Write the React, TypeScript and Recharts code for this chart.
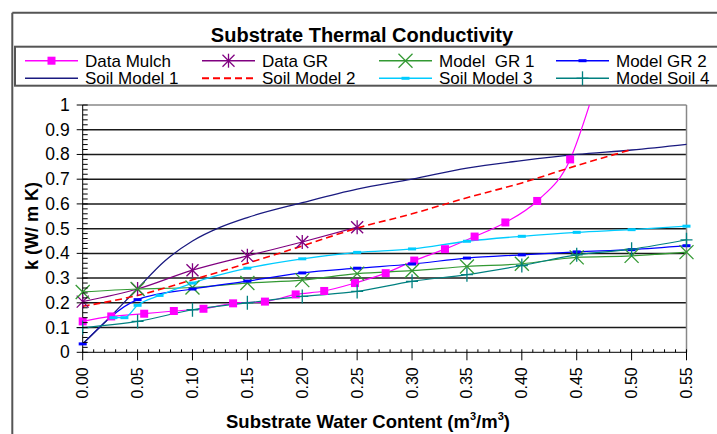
import { LineChart, Line, XAxis, YAxis, ReferenceLine } from "recharts"

// tick values
const xMajor = [0, 0.05, 0.1, 0.15, 0.2, 0.25, 0.3, 0.35, 0.4, 0.45, 0.5, 0.55]
const xLabels = ["0.00", "0.05", "0.10", "0.15", "0.20", "0.25", "0.30", "0.35", "0.40", "0.45", "0.50", "0.55"]
const yMajor = [0, 0.1, 0.2, 0.3, 0.4, 0.5, 0.6, 0.7, 0.8, 0.9, 1]
const yLabels = ["0", "0.1", "0.2", "0.3", "0.4", "0.5", "0.6", "0.7", "0.8", "0.9", "1"]
const xMinor = Array.from({ length: 56 }, (_, i) => +(i * 0.01).toFixed(2))
const yMinor = Array.from({ length: 51 }, (_, i) => +(i * 0.02).toFixed(2))

// series
const mulchX = [0, 0.026, 0.056, 0.083, 0.11, 0.137, 0.166, 0.194, 0.22, 0.248, 0.276, 0.302, 0.33, 0.357, 0.385, 0.414, 0.444, 0.463]
const mulchY = [0.125, 0.145, 0.156, 0.167, 0.176, 0.198, 0.205, 0.234, 0.248, 0.28, 0.32, 0.371, 0.417, 0.468, 0.525, 0.612, 0.78, 1.02]

const grX = [0, 0.05, 0.1, 0.15, 0.2, 0.25]
const grY = [0.205, 0.256, 0.332, 0.39, 0.446, 0.506]

const stepX = [0, 0.05, 0.1, 0.15, 0.2, 0.25, 0.3, 0.35, 0.4, 0.45, 0.5, 0.55]
const modelGr1Y = [0.244, 0.256, 0.262, 0.28, 0.292, 0.318, 0.33, 0.347, 0.358, 0.384, 0.39, 0.405]
const modelGr2Y = [0.034, 0.213, 0.256, 0.288, 0.321, 0.34, 0.357, 0.381, 0.394, 0.406, 0.415, 0.431]
const modelSoil4Y = [0.1, 0.125, 0.172, 0.2, 0.226, 0.246, 0.287, 0.314, 0.351, 0.394, 0.417, 0.455]

const soil1X = [0, 0.025, 0.05, 0.075, 0.1, 0.125, 0.15, 0.2, 0.25, 0.3, 0.35, 0.4, 0.45, 0.5, 0.55]
const soil1Y = [0.034, 0.143, 0.258, 0.37, 0.45, 0.505, 0.545, 0.605, 0.66, 0.7, 0.745, 0.775, 0.8, 0.818, 0.841]

const soil2X = [0, 0.05, 0.1, 0.15, 0.2, 0.25, 0.3, 0.35, 0.4, 0.45, 0.5]
const soil2Y = [0.186, 0.23, 0.293, 0.36, 0.43, 0.502, 0.56, 0.625, 0.685, 0.755, 0.82]

const soil3X = [0.028, 0.038, 0.05, 0.07, 0.1, 0.15, 0.2, 0.25, 0.3, 0.35, 0.4, 0.45, 0.5, 0.55]
const soil3Y = [0.14, 0.14, 0.19, 0.23, 0.28, 0.34, 0.378, 0.404, 0.418, 0.449, 0.469, 0.485, 0.496, 0.51]

const FONT = "'Liberation Sans', Arial, sans-serif"

const pts = (xs: number[], ys: number[]) => xs.map((x, i) => ({ x, y: ys[i] }))

function Marker({ kind, cx, cy, color }: { kind: string; cx: number; cy: number; color: string }) {
  if (kind === "square") return <rect x={cx - 4} y={cy - 4} width={8} height={8} fill={color} />
  if (kind === "star")
    return (
      <g stroke={color} strokeWidth={1.3}>
        <line x1={cx} x2={cx} y1={cy - 7} y2={cy + 7} />
        <line x1={cx - 6} x2={cx + 6} y1={cy - 6} y2={cy + 6} />
        <line x1={cx - 6} x2={cx + 6} y1={cy + 6} y2={cy - 6} />
      </g>
    )
  if (kind === "x")
    return (
      <g stroke={color} strokeWidth={1.3}>
        <line x1={cx - 7} x2={cx + 7} y1={cy - 7} y2={cy + 7} />
        <line x1={cx - 7} x2={cx + 7} y1={cy + 7} y2={cy - 7} />
      </g>
    )
  if (kind === "dash") return <rect x={cx - 4} y={cy - 1.5} width={8} height={3} fill={color} />
  if (kind === "plus")
    return (
      <g stroke={color} strokeWidth={1.3}>
        <line x1={cx} x2={cx} y1={cy - 7} y2={cy + 7} />
        <line x1={cx - 6} x2={cx + 6} y1={cy} y2={cy} />
      </g>
    )
  return null
}

const series = [
  { name: "Data Mulch", data: pts(mulchX, mulchY), color: "#ff00ff", marker: "square", width: 1.2 },
  { name: "Data GR", data: pts(grX, grY), color: "#800080", marker: "star", width: 1.2 },
  { name: "Model  GR 1", data: pts(stepX, modelGr1Y), color: "#339933", marker: "x", width: 1.2 },
  { name: "Model GR 2", data: pts(stepX, modelGr2Y), color: "#0000ff", marker: "dash", width: 1.2 },
  { name: "Soil Model 1", data: pts(soil1X, soil1Y), color: "#1a1a80", marker: "none", width: 1.3 },
  { name: "Soil Model 2", data: pts(soil2X, soil2Y), color: "#ff0000", marker: "none", width: 1.6, dash: "7 4" },
  { name: "Soil Model 3", data: pts(soil3X, soil3Y), color: "#00ccff", marker: "dash", width: 1.3 },
  { name: "Model Soil 4", data: pts(stepX, modelSoil4Y), color: "#008080", marker: "plus", width: 1.2 },
]

const isMajor = (arr: number[], v: number) => arr.findIndex((m) => Math.abs(m - v) < 1e-6)

function XTick(props: any) {
  const { x, y, payload } = props
  const idx = isMajor(xMajor, payload.value)
  return (
    <g>
      <line x1={x} x2={x} y1={y - 3} y2={idx >= 0 ? y + 8 : y} stroke="#000" />
      {idx >= 0 && (
        <text
          transform={`translate(${x + 5.5},${y + 15}) rotate(-90)`}
          textAnchor="end"
          fontSize={16}
          fontFamily={FONT}
          fill="#000"
        >
          {xLabels[idx]}
        </text>
      )}
    </g>
  )
}

function YTick(props: any) {
  const { x, y, payload } = props
  const idx = isMajor(yMajor, payload.value)
  return (
    <g>
      <line x1={idx >= 0 ? x - 6 : x} x2={x + 5} y1={y} y2={y} stroke="#000" />
      {idx >= 0 && (
        <text x={x - 13} y={y + 6} textAnchor="end" fontSize={17.5} fontFamily={FONT} fill="#000">
          {yLabels[idx]}
        </text>
      )}
    </g>
  )
}

const legendCols = [25, 202, 379, 556]
const legendRows = [60.7, 78.3]

export default function App() {
  return (
    <div style={{ position: "absolute", left: 0, top: 0, width: 717, height: 434, background: "#fff", overflow: "hidden" }}>
      <div style={{ position: "absolute", left: 0, top: 0 }}>
        <LineChart width={717} height={434} margin={{ top: 105, right: 30.5, left: 12.7, bottom: 31.7 }}>
          <XAxis
            type="number"
            dataKey="x"
            domain={[0, 0.55]}
            ticks={xMinor}
            interval={0}
            tickSize={0}
            tickMargin={0}
            tick={<XTick />}
            axisLine={{ stroke: "#000" }}
            tickLine={false}
            height={50}
          />
          <YAxis
            type="number"
            dataKey="y"
            domain={[0, 1]}
            allowDataOverflow
            ticks={yMinor}
            interval={0}
            tickSize={0}
            tickMargin={0}
            tick={<YTick />}
            axisLine={{ stroke: "#000" }}
            tickLine={false}
            width={70}
          />
          {yMajor.slice(1, -1).map((v) => (
            <ReferenceLine key={v} y={v} stroke="#1a1a1a" strokeWidth={1.5} />
          ))}
          <ReferenceLine y={1} stroke="#888" strokeWidth={1.5} />
          <ReferenceLine x={0.55} stroke="#888" strokeWidth={1.5} />
          {series.map((s) => (
            <Line
              key={s.name}
              data={s.data}
              dataKey="y"
              name={s.name}
              type="monotone"
              stroke={s.color}
              strokeWidth={s.width}
              strokeDasharray={s.dash}
              isAnimationActive={false}
              dot={(p: any) =>
                s.marker === "none" || p.payload.y > 1 ? (
                  <g key={p.index} />
                ) : (
                  <g key={p.index}>
                    <Marker kind={s.marker} cx={p.cx} cy={p.cy} color={s.color} />
                  </g>
                )
              }
              activeDot={false}
            />
          ))}
        </LineChart>
      </div>
      <svg width={717} height={434} style={{ position: "absolute", left: 0, top: 0, pointerEvents: "none" }}>
        <line x1={12.3} x2={717} y1={12.7} y2={12.7} stroke="#555" strokeWidth={2} />
        <line x1={12.3} x2={12.3} y1={12.7} y2={434} stroke="#555" strokeWidth={2} />
        <text x={362} y={42.3} textAnchor="middle" fontSize={20} fontWeight="bold" fontFamily={FONT} fill="#000">
          Substrate Thermal Conductivity
        </text>
        <rect x={15} y={46.7} width={760} height={39} fill="none" stroke="#555" strokeWidth={2} />
        {series.map((s, i) => {
          const lx = legendCols[i % 4]
          const ly = legendRows[Math.floor(i / 4)]
          return (
            <g key={s.name}>
              <line x1={lx} x2={lx + 53} y1={ly} y2={ly} stroke={s.color} strokeWidth={s.width + 0.3} strokeDasharray={s.dash} />
              <Marker kind={s.marker} cx={lx + 26.5} cy={ly} color={s.color} />
              <text x={lx + 60} y={ly + 6} fontSize={17} fontFamily={FONT} fill="#000" style={{ whiteSpace: "pre" }}>
                {s.name}
              </text>
            </g>
          )
        })}
        <text
          transform="translate(31.7,226) rotate(-90)"
          textAnchor="middle"
          dominantBaseline="central"
          fontSize={18}
          fontWeight="bold"
          fontFamily={FONT}
          fill="#000"
        >
          k (W/ m K)
        </text>
        <text x={368} y={428} textAnchor="middle" fontSize={18.5} fontWeight="bold" fontFamily={FONT} fill="#000">
          Substrate Water Content (m<tspan dy={-8} fontSize={11}>3</tspan>
          <tspan dy={8}>/m</tspan>
          <tspan dy={-8} fontSize={11}>3</tspan>
          <tspan dy={8}>)</tspan>
        </text>
      </svg>
    </div>
  )
}
